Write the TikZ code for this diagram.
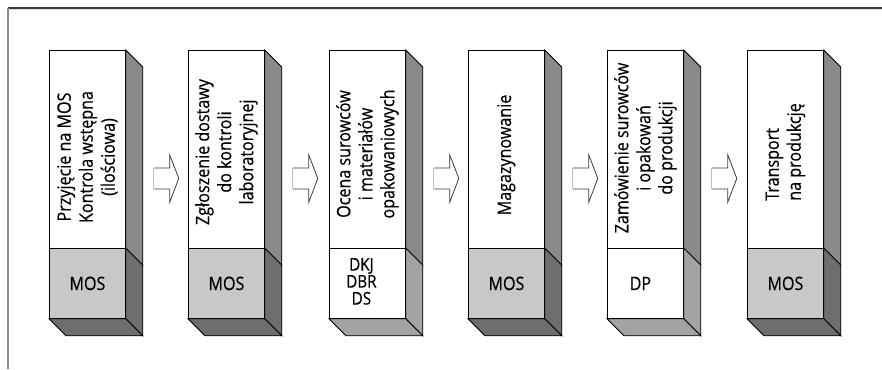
\documentclass[tikz,border=0pt]{standalone}
\usepackage{fontspec}
\setmainfont[FakeStretch=0.87,FakeBold=0.4]{Open Sans}
\usetikzlibrary{calc}
\definecolor{facegray}{HTML}{C8C8C9}
\definecolor{sideup}{HTML}{8A8A8C}
\definecolor{sidedark}{HTML}{6E6E70}
\definecolor{sidelight}{HTML}{A3A3A5}
\definecolor{framedark}{HTML}{3C3C3C}
\definecolor{framelight}{HTML}{8C8C8C}
\begin{document}
\begin{tikzpicture}[x=1pt,y=-1pt,line join=miter,
  upperface/.style={draw=black,line width=0.8pt,fill=white,minimum width=76pt,minimum height=198pt,inner sep=0pt,anchor=north west},
  lowerface/.style={draw=black,line width=0.8pt,minimum width=76pt,minimum height=70pt,inner sep=0pt,anchor=north west},
  sideface/.style={draw=black,line width=0.8pt},
  boxtext/.style={rotate=90,align=center,inner sep=0pt,font=\fontsize{18.5}{22}\selectfont},
  codetext/.style={align=center,inner sep=0pt,font=\fontsize{18.5}{16}\selectfont},
  codestack/.style={align=center,inner sep=0pt,font=\fontsize{17.5}{17}\selectfont},
  blockarrow/.style={draw=framedark,line width=0.8pt,fill=white},
  arrowback/.style={draw=black!25,line width=0.8pt}]
\useasboundingbox (0,0) rectangle (882,369);
% frame
\draw[framedark,line width=1.3pt] (8,8) -- (882,8);
\draw[black!12,line width=0.8pt] (9,9.6) -- (882,9.6);
\draw[framelight,line width=1.3pt] (8,8) -- (8,369);
% boxes
\foreach \i/\x/\lowfill/\sidefill in {1/49/facegray/sidedark,2/188/facegray/sidedark,3/329/white/sidelight,4/468/facegray/sidedark,5/607/white/sidelight,6/747/facegray/sidedark}{
  \node[upperface] (u\i) at (\x,50) {};
  \node[lowerface,fill=\lowfill] (l\i) at (\x,248) {};
  \draw[sideface,fill=sideup] (u\i.north east) -- ++(17,17) -- ($(u\i.south east)+(17,17)$) -- (u\i.south east) -- cycle;
  \draw[sideface,fill=\sidefill] (l\i.north east) -- ++(17,17) -- ($(l\i.south east)+(17,17)$) -- (l\i.south east) -- cycle;
  \draw[sideface,fill=\sidefill] (l\i.south west) -- (l\i.south east) -- ++(17,17) -- ($(l\i.south west)+(17,17)$) -- cycle;
}
% texts
\node[boxtext] (t1) at ($(u1.north)+(0,107)$) {Przyjęcie na MOS\\Kontrola wstępna\\(ilościowa)};
\node[boxtext] (t2) at ($(u2.north)+(0,102)$) {Zgłoszenie dostawy\\do kontroli\\laboratoryjnej};
\node[boxtext] (t3) at ($(u3.north)+(0,104)$) {Ocena surowców\\i materiałów\\opakowaniowych};
\node[boxtext] (t4) at ($(u4.north)+(0,105)$) {Magazynowanie};
\node[boxtext] (t5) at ($(u5.north)+(0,98)$) {Zamówienie surowców\\i opakowań\\do produkcji};
\node[boxtext,align=left] (t6) at ($(u6.north)+(0,102)$) {Transport\\na produkcję};
\node[codetext] (c1) at (l1.center) {MOS};
\node[codetext] (c2) at (l2.center) {MOS};
\node[codestack] (c3) at ($(l3.center)+(-6,-2)$) {DKJ\\DBR\\DS};
\node[codetext] (c4) at (l4.center) {MOS};
\node[codetext] (c5) at ($(l5.center)+(-5,0)$) {DP};
\node[codetext] (c6) at (l6.center) {MOS};
% block arrows between the boxes
\foreach \i in {1,...,5}{
  \coordinate (a\i) at ($(u\i.north east)+(28,128.5)$);
  \draw[blockarrow] ($(a\i)+(0,-10.5)$) -- ++(16,0) -- ++(0,-13) -- ($(a\i)+(25,0)$) -- ($(a\i)+(16,23.5)$) -- ++(0,-13) -- ($(a\i)+(0,10.5)$);
  \draw[arrowback] ($(a\i)+(0,-10.5)$) -- ($(a\i)+(0,10.5)$);
}
\end{tikzpicture}
\end{document}
